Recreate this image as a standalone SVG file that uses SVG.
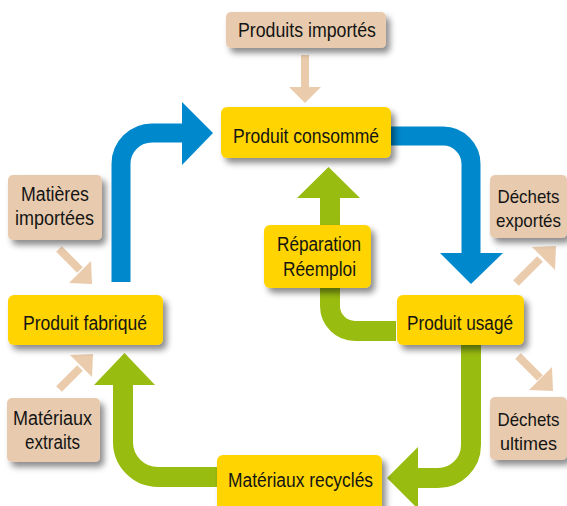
<svg xmlns="http://www.w3.org/2000/svg" width="567" height="506" viewBox="0 0 567 506">
<defs>
<filter id="sh" x="-20%" y="-20%" width="150%" height="160%">
<feDropShadow dx="4" dy="5" stdDeviation="3" flood-color="#000" flood-opacity="0.45"/>
</filter>
<style>
.main{fill:#FFD400;filter:url(#sh)}
.side{fill:#E8CBAE;filter:url(#sh)}
.t{font-family:"Liberation Sans",Arial,sans-serif;font-size:20px;fill:#141414;text-anchor:middle}
.r{font-size:18.5px}
.blue{fill:none;stroke:#0088CC;stroke-width:19}
.blueh{fill:#0088CC}
.green{fill:none;stroke:#99BC11;stroke-width:20}
.greenh{fill:#99BC11}
.beige{stroke:#EACBAC;stroke-width:8;fill:none}
.beigeh{fill:#EACBAC}
</style>
</defs>
<rect width="567" height="506" fill="#fff"/>
<g id="connectors">
<path class="blue" d="M121,282 V164 A31,31 0 0 1 152,133 H184"/>
<polygon class="blueh" points="182,102 213,133 182,165"/>
<path class="blue" d="M385,136 H443 A28,28 0 0 1 471,164 V255"/>
<polygon class="blueh" points="440,253 503,253 471,284"/>
<path class="green" d="M396,331 H355 A25,25 0 0 1 330,306 V196"/>
<polygon class="greenh" points="297,198 360,198 328.5,167"/>
<path class="green" d="M471,340 V445 A33,33 0 0 1 438,478 H416"/>
<polygon class="greenh" points="418,447 418,509 387,478"/>
<path class="green" d="M222,477 H158 A35,35 0 0 1 123,442 V383"/>
<polygon class="greenh" points="94,385 155,385 124.5,353"/>
<path class="beige" d="M305,55 V88"/>
<polygon class="beigeh" points="289,87 321,87 305,103"/>
<path class="beige" d="M59,249 L80,270"/>
<polygon class="beigeh" points="91,261 69,283 92,284"/>
<path class="beige" d="M59,389 L80,368"/>
<polygon class="beigeh" points="70,355 92,377 93,354"/>
<path class="beige" d="M516,283 L540,259"/>
<polygon class="beigeh" points="532,247 555,270 556,246"/>
<path class="beige" d="M518,356 L540,378"/>
<polygon class="beigeh" points="552,367 529,390 553,391"/>
</g>
<g id="produits-importes">
<rect class="side" x="226" y="12" width="160" height="36" rx="5"/>
<text class="t" x="307" y="37" textLength="138" lengthAdjust="spacingAndGlyphs">Produits importés</text>
</g>
<g id="produit-consomme">
<rect class="main" x="221" y="107" width="170" height="51" rx="6"/>
<text class="t" x="306" y="143" textLength="146" lengthAdjust="spacingAndGlyphs">Produit consommé</text>
</g>
<g id="dechets-exportes">
<rect class="side" x="490" y="175" width="77" height="63" rx="5"/>
<text class="t r" x="528.5" y="203" textLength="62" lengthAdjust="spacingAndGlyphs">Déchets</text>
<text class="t r" x="528.5" y="227" textLength="65" lengthAdjust="spacingAndGlyphs">exportés</text>
</g>
<g id="matieres-importees">
<rect class="side" x="8" y="175" width="94" height="65" rx="5"/>
<text class="t" x="55" y="201" textLength="68" lengthAdjust="spacingAndGlyphs">Matières</text>
<text class="t" x="54.5" y="225" textLength="79" lengthAdjust="spacingAndGlyphs">importées</text>
</g>
<g id="reparation-reemploi">
<rect class="main" x="264" y="225" width="107" height="63" rx="6"/>
<text class="t" x="319" y="251" textLength="84" lengthAdjust="spacingAndGlyphs">Réparation</text>
<text class="t" x="319.5" y="276" textLength="73" lengthAdjust="spacingAndGlyphs">Réemploi</text>
</g>
<g id="produit-fabrique">
<rect class="main" x="8" y="295" width="155" height="50" rx="6"/>
<text class="t" x="85" y="330" textLength="124" lengthAdjust="spacingAndGlyphs">Produit fabriqué</text>
</g>
<g id="produit-usage">
<rect class="main" x="397" y="295" width="127" height="50" rx="6"/>
<text class="t" x="460" y="330" textLength="106" lengthAdjust="spacingAndGlyphs">Produit usagé</text>
</g>
<g id="materiaux-extraits">
<rect class="side" x="7" y="398" width="93" height="64" rx="5"/>
<text class="t" x="52.5" y="425" textLength="79" lengthAdjust="spacingAndGlyphs">Matériaux</text>
<text class="t" x="52.5" y="449" textLength="55" lengthAdjust="spacingAndGlyphs">extraits</text>
</g>
<g id="dechets-ultimes">
<rect class="side" x="490" y="397" width="77" height="63" rx="5"/>
<text class="t r" x="528.5" y="426" textLength="62" lengthAdjust="spacingAndGlyphs">Déchets</text>
<text class="t r" x="528.5" y="450" textLength="57" lengthAdjust="spacingAndGlyphs">ultimes</text>
</g>
<g id="materiaux-recycles">
<rect class="main" x="217" y="455" width="165" height="60" rx="6"/>
<text class="t" x="300.5" y="487" textLength="145" lengthAdjust="spacingAndGlyphs">Matériaux recyclés</text>
</g>
</svg>
